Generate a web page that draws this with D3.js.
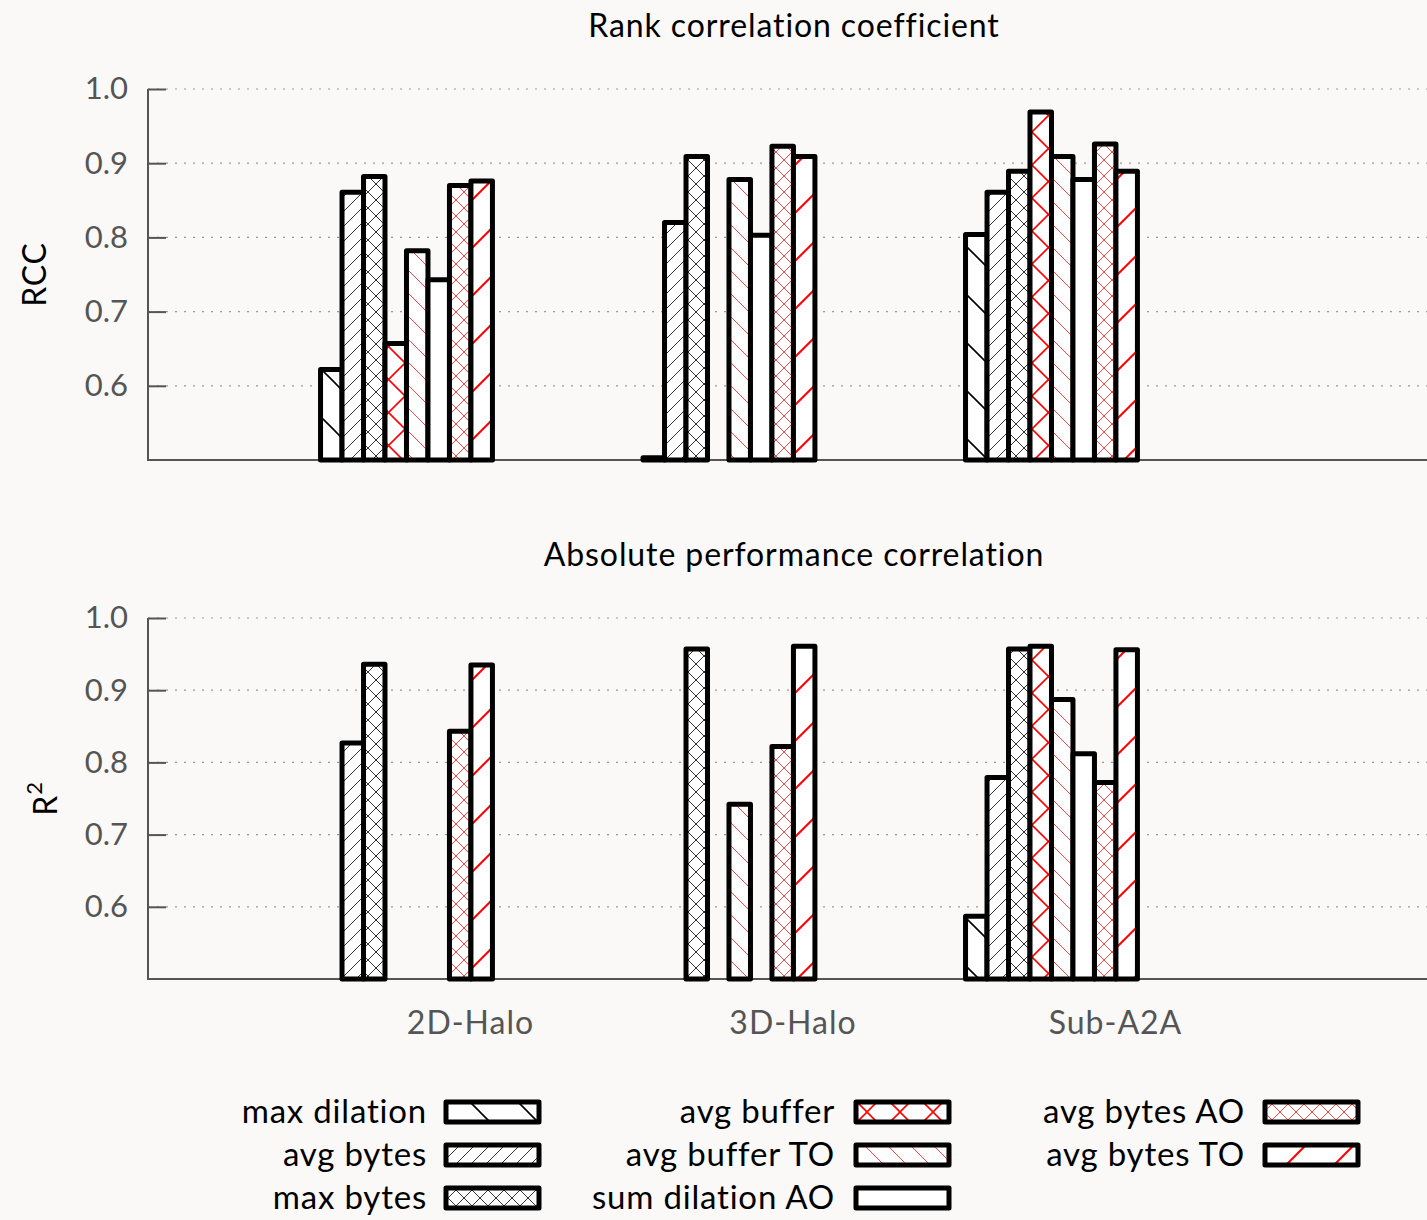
<!DOCTYPE html>
<html>
<head>
<meta charset="utf-8">
<script src="https://cdn.jsdelivr.net/npm/d3@7"></script>
<style>
body { margin: 0; background: #faf9f7; }
svg { display: block; font-family: Lato, "Open Sans", sans-serif; }
</style>
</head>
<body>
<svg id="chart" width="1427" height="1220"></svg>
<script>
var categories = ["2D-Halo", "3D-Halo", "Sub-A2A"];
var series = ["max dilation", "avg bytes", "max bytes", "avg buffer",
              "avg buffer TO", "sum dilation AO", "avg bytes AO", "avg bytes TO"];

// one row per category, one value per series; null = no bar
var rccValues = [
	[0.622, 0.861, 0.882, 0.657, 0.782, 0.743, 0.870, 0.876],
	[0.503, 0.820, 0.909, null, 0.878, 0.803, 0.923, 0.909],
	[0.804, 0.861, 0.889, 0.969, 0.909, 0.878, 0.926, 0.889]
];
var r2Values = [
	[null, 0.827, 0.936, null, null, null, 0.843, 0.935],
	[null, null, 0.957, null, 0.742, null, 0.822, 0.961],
	[0.587, 0.779, 0.957, 0.961, 0.887, 0.812, 0.772, 0.956]
];
var yTicks = [0.6, 0.7, 0.8, 0.9, 1.0];

// fill pattern per series (gnuplot style hatching)
var patterns = [
	{color: "#000", dirs: ["\\"], s: 48, w: 1.6, ox: 0},
	{color: "#333", dirs: ["/"], s: 15, w: 1, ox: 0},
	{color: "#333", dirs: ["/", "\\"], s: 16, w: 1, ox: 0},
	{color: "#f00", dirs: ["/", "\\"], s: 33, w: 1.6, ox: 9},
	{color: "#f44", dirs: ["\\"], s: 23, w: 1, ox: 0},
	null,
	{color: "#f44", dirs: ["/", "\\"], s: 16, w: 1, ox: 0},
	{color: "#f00", dirs: ["/"], s: 48, w: 2, ox: 0}
];

var svg = d3.select("#chart");
var W = 1427;
var defs = svg.append("defs");

patterns.forEach(function(p, i){
	if(!p) return;
	var s = p.s;
	var pat = defs.append("pattern")
		.attr("id", "pat" + i)
		.attr("patternUnits", "userSpaceOnUse")
		.attr("x", p.ox)
		.attr("width", s).attr("height", s);
	pat.append("rect").attr("width", s).attr("height", s).attr("fill", "#fff");
	p.dirs.forEach(function(d){
		var segs = d === "/" ?
			[[0, s, s, 0], [-2, 2, 2, -2], [s - 2, s + 2, s + 2, s - 2]] :
			[[0, 0, s, s], [-2, s - 2, 2, s + 2], [s - 2, -2, s + 2, 2]];
		segs.forEach(function(g){
			pat.append("line")
				.attr("x1", g[0]).attr("y1", g[1])
				.attr("x2", g[2]).attr("y2", g[3])
				.attr("stroke", p.color)
				.attr("stroke-width", p.w);
		});
	});
});

function fillOf(i){ return patterns[i] ? "url(#pat" + i + ")" : "#fff"; }

var x = d3.scaleLinear().domain([-1, 3]).range([148, 1438]);
var inner = d3.scaleBand().domain(series).range([-0.465, 0.068]);
var barW = x(inner.bandwidth()) - x(0);

function panel(values, top, bottom, title, titleY, ylabel){
	var y = d3.scaleLinear().domain([0.5, 1.0]).range([bottom, top]);
	var g = svg.append("g");

	g.append("text")
		.attr("x", 794).attr("y", titleY)
		.attr("text-anchor", "middle")
		.attr("font-size", 32)
		.attr("letter-spacing", 0.9)
		.attr("fill", "#000")
		.text(title);

	// dotted grid
	g.selectAll(".grid").data(yTicks).enter().append("line")
		.attr("x1", x(-1)).attr("x2", W)
		.attr("y1", function(d){ return y(d); })
		.attr("y2", function(d){ return y(d); })
		.attr("stroke", "#999")
		.attr("stroke-width", 1.2)
		.attr("stroke-dasharray", "2,7");

	var axis = d3.axisLeft(y)
		.tickValues(yTicks)
		.tickFormat(d3.format(".1f"))
		.tickSize(-18)
		.tickPadding(20);
	var ax = g.append("g").attr("transform", "translate(" + x(-1) + ",0)").call(axis);
	ax.select(".domain").remove();
	ax.selectAll(".tick line").attr("stroke", "#555").attr("stroke-width", 2);
	ax.selectAll(".tick text")
		.attr("fill", "#555")
		.attr("font-size", 31)
		.attr("font-family", "Lato, 'Open Sans', sans-serif");

	g.append("path")
		.attr("d", "M" + x(-1) + "," + y(1.0) + "V" + y(0.5) + "H" + W)
		.attr("fill", "none")
		.attr("stroke", "#555")
		.attr("stroke-width", 2);

	var bars = [];
	values.forEach(function(row, ci){
		row.forEach(function(v, si){
			if(v !== null) bars.push({c: ci, s: si, v: v});
		});
	});

	g.selectAll(".bar").data(bars).enter().append("rect")
		.attr("class", "bar")
		.attr("x", function(d){ return x(d.c + inner(series[d.s])); })
		.attr("width", barW)
		.attr("y", function(d){ return y(d.v); })
		.attr("height", function(d){ return y(0.5) - y(d.v); })
		.attr("fill", function(d){ return fillOf(d.s); })
		.attr("stroke", "#000")
		.attr("stroke-width", 5)
		.attr("stroke-linejoin", "round");

	g.append("text")
		.attr("transform", "translate(" + ylabel.x + "," + ((top + bottom) / 2) + ") rotate(-90)")
		.attr("text-anchor", "middle")
		.attr("font-size", 32)
		.attr("letter-spacing", 0.8)
		.attr("fill", "#000")
		.call(ylabel.render);

	return y;
}

panel(rccValues, 89, 460, "Rank correlation coefficient", 37,
	{x: 46, render: function(t){ t.text("RCC"); }});
panel(r2Values, 618, 979, "Absolute performance correlation", 566,
	{x: 57, render: function(t){
		t.append("tspan").text("R");
		t.append("tspan").attr("dy", -15).attr("font-size", 22).text("2");
	}});

// category labels
svg.selectAll(".cat").data(categories).enter().append("text")
	.attr("x", function(d, i){ return x(i); })
	.attr("y", 1034)
	.attr("text-anchor", "middle")
	.attr("font-size", 32)
	.attr("letter-spacing", 1)
	.attr("fill", "#555")
	.text(function(d){ return d; });

// legend, three columns
var colText = [427, 835, 1245];
var colBox = [446, 856, 1265];
var rowY = d3.scalePoint().domain([0, 1, 2]).range([1112, 1198]);

var leg = svg.selectAll(".leg").data(series).enter().append("g")
	.attr("transform", function(d, i){
		return "translate(0," + rowY(i % 3) + ")";
	});

leg.append("text")
	.attr("x", function(d, i){ return colText[Math.floor(i / 3)]; })
	.attr("y", 11)
	.attr("text-anchor", "end")
	.attr("font-size", 33)
	.attr("letter-spacing", 0.8)
	.attr("fill", "#000")
	.text(function(d){ return d; });

leg.append("rect")
	.attr("x", function(d, i){ return colBox[Math.floor(i / 3)]; })
	.attr("y", -10)
	.attr("width", 93)
	.attr("height", 20)
	.attr("fill", function(d, i){ return fillOf(i); })
	.attr("stroke", "#000")
	.attr("stroke-width", 5)
	.attr("stroke-linejoin", "round");
</script>
</body>
</html>
